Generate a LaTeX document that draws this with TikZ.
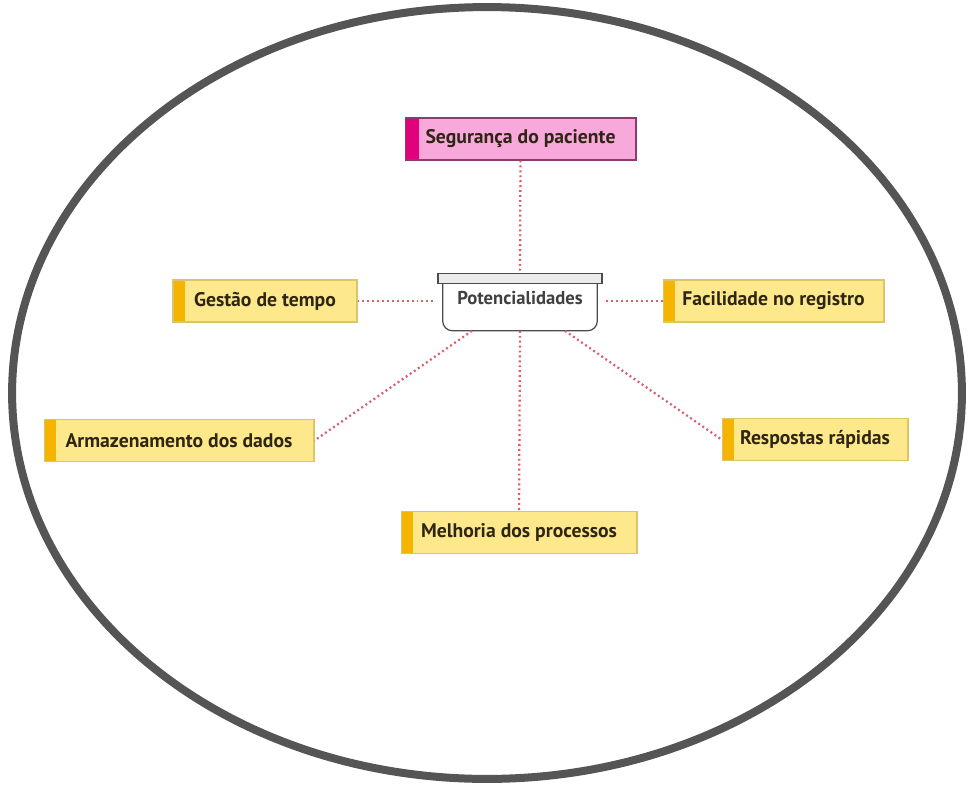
\documentclass[tikz,border=0pt]{standalone}
\usepackage{fontspec}
\setmainfont{PT Sans}
\definecolor{ringgrey}{HTML}{555555}
\definecolor{linkred}{HTML}{D8606C}
\definecolor{yelfill}{HTML}{FDE98C}
\definecolor{yelbar}{HTML}{F5B400}
\definecolor{yelline}{HTML}{DCC468}
\definecolor{pinkfill}{HTML}{F8A8DA}
\definecolor{pinkbar}{HTML}{E2007C}
\definecolor{pinkline}{HTML}{8A3C6C}
\definecolor{boxtext}{HTML}{2E2612}
\begin{document}
\begin{tikzpicture}
          [x=0.02cm,y=-0.02cm,
           every node/.style={font=\bfseries\fontsize{11.2}{13}\selectfont, inner sep=0pt, minimum height=0.84cm, text=boxtext},
           topic/.style={fill=yelfill, draw=yelline, line width=0.6pt,
             path picture={\fill[yelbar] (path picture bounding box.north west) rectangle ([xshift=0.24cm]path picture bounding box.south west);}},
           link/.style={draw=linkred, dash pattern=on 1.1pt off 1.7pt, line width=1.3pt}]
        \useasboundingbox (0,0) rectangle (969,787);
        \draw[line width=0.16cm, ringgrey] (487,393) ellipse [x radius=9.5cm, y radius=7.72cm];

        \node[minimum width=3.08cm, minimum height=0.94cm] (n1) at (520,307) {};
        \draw[black!70, line width=0.7pt, fill=white, rounded corners=0.2cm] (n1.north west) -- (n1.south west) -- (n1.south east) -- (n1.north east);
        \node[draw=black!70, fill=black!8, line width=0.7pt, minimum width=3.28cm, minimum height=0.2cm] (n8) at ([yshift=0.1cm]n1.north) {};
        \node[font=\bfseries\fontsize{10.6}{13}\selectfont, text=black!75, text height=0.25cm, text depth=0.35cm] at (n1) {Potencialidades};

        \node[topic, fill=pinkfill, draw=pinkline, minimum width=4.62cm,
          path picture={\fill[pinkbar] (path picture bounding box.north west) rectangle ([xshift=0.28cm]path picture bounding box.south west);}] (n2) at (520.5,139) {Segurança do paciente};
        \node[topic, minimum width=3.68cm] (n3) at (265,301) {Gestão de tempo};
        \node[topic, minimum width=4.42cm] (n4) at (773.5,301) {Facilidade no registro};
        \node[topic, minimum width=5.4cm] (n5) at (179,440.5) {Armazenamento dos dados};
        \node[topic, minimum width=3.72cm] (n6) at (815,439.5) {Respostas rápidas};
        \node[topic, minimum width=4.72cm] (n7) at (519,532.5) {Melhoria dos processos};

        \coordinate (p1) at ([xshift=-0.96cm]n1.south);
        \coordinate (p2) at (n1.south);
        \coordinate (p3) at ([xshift=0.9cm]n1.south);
        \coordinate (p4) at ([xshift=-0.16cm]n3.east -| n1.west);
        \coordinate (p5) at ([xshift=0.16cm]n4.west -| n1.east);

        \foreach \from/\to in {n2.south/n8.north, n3.east/p4, n4.west/p5, p1/n5.east, p2/n7.north, p3/n6.west}
          \draw[link] (\from) -- (\to);
      \end{tikzpicture}
\end{document}
